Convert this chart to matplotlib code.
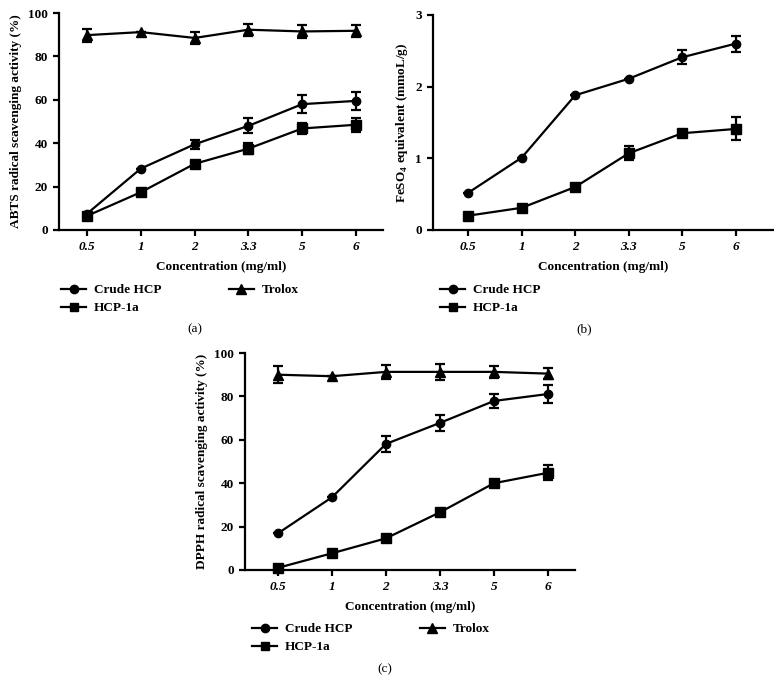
import numpy as np
import matplotlib.pyplot as plt
from matplotlib.lines import Line2D

plt.rcParams['font.family'] = ['Liberation Serif', 'DejaVu Serif']
plt.rcParams['font.weight'] = 'bold'
plt.rcParams['mathtext.fontset'] = 'custom'
plt.rcParams['mathtext.rm'] = 'Liberation Serif:bold'

conc = ['0.5', '1', '2', '3.3', '5', '6']

# (a) ABTS
abts_crude = [7.5, 28.3, 39.5, 48.0, 58.0, 59.5]
abts_crude_err = [0.0, 0.0, 2.1, 3.4, 4.2, 4.3]
abts_hcp = [6.5, 17.4, 30.5, 37.5, 46.8, 48.5]
abts_hcp_err = [0.0, 0.0, 1.2, 2.5, 2.4, 3.3]
abts_trolox = [89.8, 91.2, 88.5, 92.3, 91.5, 91.8]
abts_trolox_err = [3.0, 0.0, 2.8, 2.7, 3.2, 2.7]

# (b) FRAP
frap_crude = [0.52, 1.01, 1.88, 2.11, 2.41, 2.60]
frap_crude_err = [0.0, 0.0, 0.0, 0.0, 0.10, 0.11]
frap_hcp = [0.20, 0.31, 0.60, 1.07, 1.35, 1.41]
frap_hcp_err = [0.0, 0.0, 0.0, 0.10, 0.04, 0.16]

# (c) DPPH
dpph_crude = [16.9, 33.5, 58.1, 67.8, 77.9, 81.1]
dpph_crude_err = [0.0, 0.0, 3.7, 3.6, 3.4, 4.2]
dpph_hcp = [1.0, 7.7, 14.6, 26.6, 40.0, 44.8]
dpph_hcp_err = [0.0, 0.0, 0.0, 0.0, 1.5, 3.4]
dpph_trolox = [90.0, 89.3, 91.3, 91.3, 91.3, 90.5]
dpph_trolox_err = [3.8, 0.0, 3.2, 3.8, 2.8, 2.7]

W, H = 774, 695
FS = 9.5
fig = plt.figure(figsize=(W / 100, H / 100), dpi=100)


def px_axes(l, t, r, b):
    return fig.add_axes([l / W, 1 - b / H, (r - l) / W, (b - t) / H])


def series(ax, y, err, marker, ms):
    x = np.arange(len(conc))
    ax.errorbar(x, y, yerr=err, color='black', lw=1.6, marker=marker, ms=ms,
                elinewidth=1.6, capsize=3.5, capthick=1.6, clip_on=False)


def style(ax, xlim, ylim, yticks, ylabel):
    ax.set_xlim(*xlim)
    ax.set_ylim(*ylim)
    ax.set_xticks(np.arange(len(conc)))
    ax.set_xticklabels(conc, fontstyle='italic', fontweight='bold', fontsize=FS)
    ax.set_yticks(yticks)
    for lab in ax.get_yticklabels():
        lab.set_fontweight('bold')
        lab.set_fontsize(FS)
    for s in ['top', 'right']:
        ax.spines[s].set_visible(False)
    for s in ['left', 'bottom']:
        ax.spines[s].set_linewidth(1.6)
    ax.tick_params(width=1.6, length=4, pad=4)
    ax.set_xlabel('Concentration (mg/ml)', fontsize=FS, fontweight='bold', labelpad=6)
    ax.set_ylabel(ylabel, fontsize=FS, fontweight='bold', labelpad=4)


def legend(anchor, with_trolox):
    h = [Line2D([], [], color='black', lw=1.6, marker='o', ms=6),
         Line2D([], [], color='black', lw=1.6, marker='s', ms=6)]
    labels = ['Crude HCP', 'HCP-1a']
    if with_trolox:
        h.append(Line2D([], [], color='black', lw=1.6, marker='^', ms=6.5))
        labels.append('Trolox')
    fig.legend(h, labels, loc='upper left', bbox_to_anchor=(anchor[0] / W, 1 - anchor[1] / H),
               ncol=2 if with_trolox else 1, frameon=False, fontsize=FS,
               handlelength=1.9, handletextpad=0.6, labelspacing=0.45,
               columnspacing=5.1, borderpad=0, borderaxespad=0)


# panel a
ax1 = px_axes(59, 13, 383, 230)
series(ax1, abts_crude, abts_crude_err, 'o', 6)
series(ax1, abts_hcp, abts_hcp_err, 's', 6.5)
series(ax1, abts_trolox, abts_trolox_err, '^', 7)
style(ax1, (-0.52, 5.5), (0, 100), [0, 20, 40, 60, 80, 100],
      'ABTS radical scavenging activity (%)')
legend((61, 284), True)
fig.text(195 / W, 1 - 329 / H, '(a)', ha='center', va='center', fontsize=FS, fontweight='normal')

# panel b
ax2 = px_axes(433, 15, 773, 230)
series(ax2, frap_crude, frap_crude_err, 'o', 6)
series(ax2, frap_hcp, frap_hcp_err, 's', 6.5)
style(ax2, (-0.66, 5.7), (0, 3), [0, 1, 2, 3], r'FeSO$_4$ equivalent (mmoL/g)')
legend((440, 284), False)
fig.text(584 / W, 1 - 329 / H, '(b)', ha='center', va='center', fontsize=FS, fontweight='normal')

# panel c
ax3 = px_axes(245, 353, 575, 570)
series(ax3, dpph_crude, dpph_crude_err, 'o', 6)
series(ax3, dpph_hcp, dpph_hcp_err, 's', 6.5)
series(ax3, dpph_trolox, dpph_trolox_err, '^', 7)
style(ax3, (-0.61, 5.5), (0, 100), [0, 20, 40, 60, 80, 100],
      'DPPH radical scavenging activity (%)')
legend((252, 623), True)
fig.text(385 / W, 1 - 669 / H, '(c)', ha='center', va='center', fontsize=FS, fontweight='normal')

fig.savefig('out.png', dpi=100)
